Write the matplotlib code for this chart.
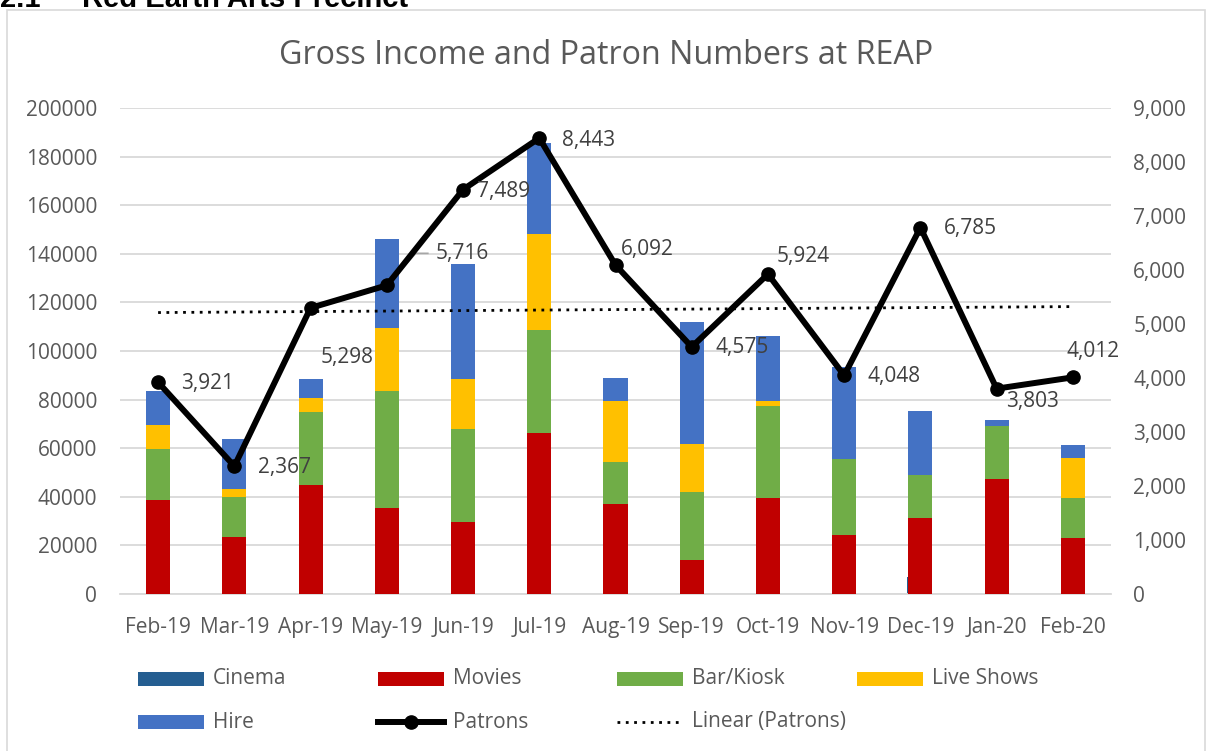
"""Gross income (stacked bars) and patron numbers (line) at REAP."""

import matplotlib
matplotlib.use("Agg")
import matplotlib.pyplot as plt
import numpy as np
from matplotlib.lines import Line2D
from matplotlib.patches import Rectangle
from matplotlib.ticker import FuncFormatter, MultipleLocator

W, H = 1208, 751

months = ["Feb-19", "Mar-19", "Apr-19", "May-19", "Jun-19", "Jul-19", "Aug-19",
          "Sep-19", "Oct-19", "Nov-19", "Dec-19", "Jan-20", "Feb-20"]
cinema = [0, 0, 0, 0, 0, 0, 0, 0, 0, 0, 7100, 0, 0]
movies = [38700, 23600, 44900, 35300, 29600, 66300, 37000, 14000, 39500, 24300, 31200, 47300, 22900]
bar_kiosk = [21000, 16500, 29900, 48300, 38300, 42400, 17300, 28000, 37900, 31300, 17800, 21900, 16500]
live_shows = [9900, 3000, 5800, 25900, 20600, 39500, 25100, 19800, 2100, 0, 0, 0, 16500]
hire = [14000, 20600, 7900, 36600, 47300, 37500, 9500, 50200, 26800, 37900, 26300, 2300, 5500]
patrons = [3921, 2367, 5298, 5716, 7489, 8443, 6092, 4575, 5924, 4048, 6785, 3803, 4012]

# label offsets in pixels (right, down) from each patrons point
label_offsets = [(23, 1), (24, 1), (10, 50), (49, -32), (14, 2), (23, 2), (5, -16),
                 (24, 1), (9, -18), (23, 1), (23, 1), (9, 13), (-6, -26)]

colors = {
    "Cinema": "#255E91",
    "Movies": "#C00000",
    "Bar/Kiosk": "#70AD47",
    "Live Shows": "#FFC000",
    "Hire": "#4472C4",
}

FONT = "Open Sans"
TICK_COLOR = "#595959"
LABEL_COLOR = "#404040"
GRID_COLOR = "#D9D9D9"
FS = 15

plt.rcParams["font.family"] = [FONT, "DejaVu Sans"]


def fig_xy(x, y):
    """Convert image pixel coordinates to figure fractions."""
    return x / W, 1 - y / H


fig = plt.figure(figsize=(W / 100, H / 100), dpi=100)
fig.patch.set_facecolor("white")

# chart frame and cut-off section heading above it
fx0, fy0 = fig_xy(7, 10)
fx1, _ = fig_xy(1205, 0)
fig.add_artist(Rectangle((fx0, -0.01), fx1 - fx0, fy0 + 0.01, transform=fig.transFigure,
                         facecolor="none", edgecolor=GRID_COLOR, lw=1.2))
fig.text(*fig_xy(0, 7), "2.1", fontsize=21, fontweight="bold", family="Liberation Sans",
         va="baseline", ha="left")
fig.text(*fig_xy(82, 7), "Red Earth Arts Precinct", fontsize=21, fontweight="bold",
         family="Liberation Sans", va="baseline", ha="left")

ax = fig.add_axes([120 / W, 157 / H, 991 / W, 486 / H])
ax2 = ax.twinx()

x = np.arange(len(months))
width = 0.315

# cinema sits behind the stack, only a sliver shows
ax.bar(x - 0.02, cinema, width, color=colors["Cinema"], zorder=2)
bottom = np.zeros(len(months))
for name, values in [("Movies", movies), ("Bar/Kiosk", bar_kiosk),
                     ("Live Shows", live_shows), ("Hire", hire)]:
    ax.bar(x, values, width, bottom=bottom, color=colors[name], zorder=3)
    bottom += np.array(values)

ax.set_xlim(-0.5, len(months) - 0.5)
ax.set_ylim(0, 200000)
ax.yaxis.set_major_locator(MultipleLocator(20000))
ax.grid(axis="y", color=GRID_COLOR, lw=1.3, zorder=0)
ax.set_axisbelow(True)
ax.set_xticks(x)
ax.set_xticklabels(months)
for spine in ["top", "left", "right"]:
    ax.spines[spine].set_visible(False)
    ax2.spines[spine].set_visible(False)
ax.spines["bottom"].set_color(GRID_COLOR)
ax.spines["bottom"].set_linewidth(1.3)
ax2.spines["bottom"].set_visible(False)
ax.tick_params(axis="both", length=0, labelsize=FS, labelcolor=TICK_COLOR)
ax.tick_params(axis="y", pad=16.5)
ax.tick_params(axis="x", pad=16.5)

# patrons on the secondary axis
ax2.set_ylim(0, 9000)
ax2.yaxis.set_major_locator(MultipleLocator(1000))
ax2.yaxis.set_major_formatter(FuncFormatter(lambda v, _: f"{v:,.0f}"))
ax2.tick_params(axis="y", length=0, labelsize=FS, labelcolor=TICK_COLOR, pad=16)

trend = np.poly1d(np.polyfit(x, patrons, 1))
ax2.plot(x, trend(x), color="black", lw=2, linestyle=(0, (1, 2)), zorder=4)
ax2.plot(x, patrons, color="black", lw=4.3, marker="o", markersize=9.5, zorder=5)

for xi, value, (dx, dy) in zip(x, patrons, label_offsets):
    ax2.annotate(f"{value:,}", (xi, value), xytext=(dx, -dy), textcoords="offset pixels",
                 ha="left", va="center", fontsize=FS, color=LABEL_COLOR, zorder=6)

# leader line for the May-19 label
may = 3
start = ax2.transData.transform((may, patrons[may]))
ax2.add_artist(Line2D([start[0] + 2, start[0] + 29, start[0] + 41],
                      [start[1] + 2, start[1] + 32, start[1] + 32],
                      transform=None, color="#A6A6A6", lw=1.2, zorder=4))

fig.text(*fig_xy(606, 55), "Gross Income and Patron Numbers at REAP", fontsize=23.2,
         color=TICK_COLOR, ha="center", va="center")

# legend, laid out like the spreadsheet one: four columns, two rows
col_x = [138, 378, 617, 857]
row_y = [679, 722]
entries = [
    ("Cinema", "patch", 0, 0), ("Movies", "patch", 1, 0), ("Bar/Kiosk", "patch", 2, 0),
    ("Live Shows", "patch", 3, 0), ("Hire", "patch", 0, 1), ("Patrons", "line", 1, 1),
    ("Linear (Patrons)", "dotted", 2, 1),
]
for label, kind, col, row in entries:
    x0, yc = col_x[col], row_y[row]
    if kind == "patch":
        px, py = fig_xy(x0, yc + 7)
        fig.add_artist(Rectangle((px, py), 66 / W, 14 / H, transform=fig.transFigure,
                                 facecolor=colors[label], edgecolor="none"))
    elif kind == "line":
        lx0, ly = fig_xy(x0, yc)
        lx1, _ = fig_xy(x0 + 66, yc)
        fig.add_artist(Line2D([lx0, lx1], [ly, ly], transform=fig.transFigure,
                              color="black", lw=4.3))
        fig.add_artist(Line2D([(lx0 + lx1) / 2], [ly], transform=fig.transFigure,
                              color="black", marker="o", markersize=9.5))
    else:
        lx0, ly = fig_xy(x0, yc)
        lx1, _ = fig_xy(x0 + 66, yc)
        fig.add_artist(Line2D([lx0, lx1], [ly, ly], transform=fig.transFigure,
                              color="black", lw=2, linestyle=(0, (1, 2))))
    fig.text(*fig_xy(x0 + 75, yc), label, fontsize=FS, color=TICK_COLOR,
             ha="left", va="center")

fig.savefig("out.png", dpi=100)
